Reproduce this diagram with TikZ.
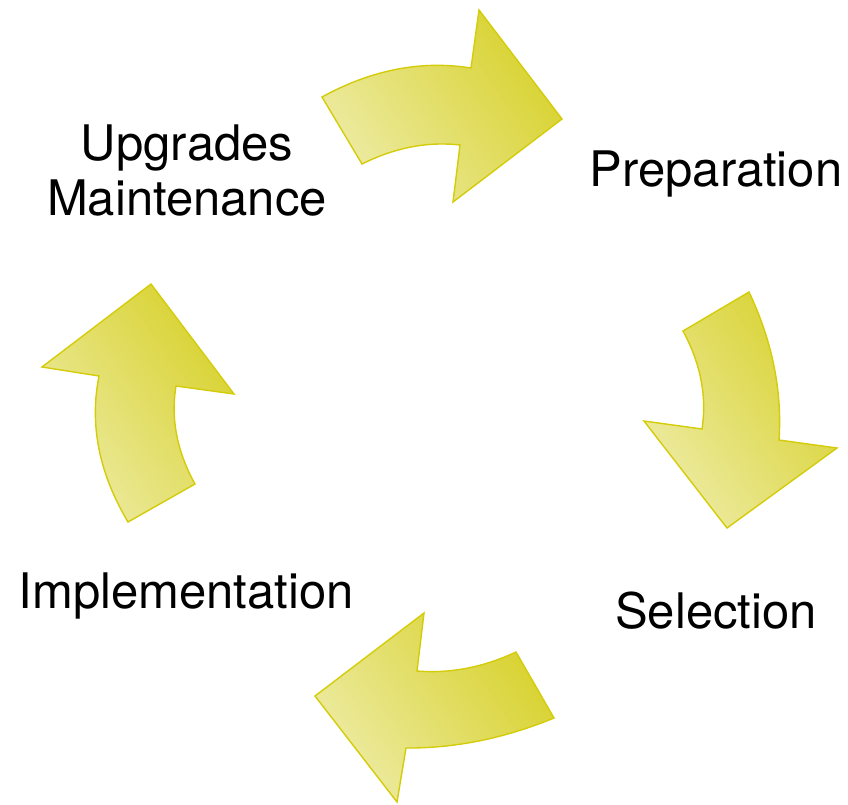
\documentclass[tikz,border=0pt]{standalone}
\usepackage{fontspec}
\setmainfont{TeX Gyre Heros}
\usetikzlibrary{positioning}

\definecolor{arrow-light}{RGB}{237,235,163}
\definecolor{arrow-dark}{RGB}{216,210,46}
\definecolor{arrow-line}{RGB}{212,204,10}

\begin{document}
\begin{tikzpicture}
[
x=1pt, y=-1pt,
arrow-a/.style={draw=arrow-line, line width=1.4pt, line join=miter, left color=arrow-light, right color=arrow-dark, shading angle=125},
text-a/.style={black, inner sep=0pt, anchor=base, font=\fontsize{49}{55}\selectfont}
]

\useasboundingbox (0,0) rectangle (848,804);

% arrows of the cycle
\draw [arrow-a] (322,97) -- (362,164) .. controls (394.7,147.7) and (427.3,141.3) .. (460,145)
                -- (453,202) -- (562,119) -- (479,10) -- (471,68)
                .. controls (421.3,60.1) and (371.7,69.7) .. (322,97) -- cycle;
\draw [arrow-a] (749,292) -- (683,331) .. controls (700.7,363.7) and (707,396.3) .. (702,429)
                -- (644,421) -- (727,528) -- (837,448) -- (779,440)
                .. controls (782.3,390.7) and (772.3,341.3) .. (749,292) -- cycle;
\draw [arrow-a] (516,652) -- (554,718) .. controls (504.7,738.3) and (455.3,748.3) .. (406,748)
                -- (397,802) -- (315,696) -- (424,613) -- (417,671)
                .. controls (450,673.7) and (483,667.4) .. (516,652) -- cycle;
\draw [arrow-a] (128,522) -- (195,484) .. controls (176.9,451.3) and (170.6,418.7) .. (176,386)
                -- (234,394) -- (151,284) -- (42,367) -- (99,376)
                .. controls (89.3,424.7) and (99,473.3) .. (128,522) -- cycle;

% labels
\node (upgrades)    [text-a] at (187,160) {Upgrades};
\node (maintenance) [text-a] at (187,215) {Maintenance};
\node (preparation) [text-a] at (716,186) {Preparation};
\node (selection)   [text-a] at (716,628) {Selection};
\node (implement)   [text-a] at (186,608) {Implementation};

\end{tikzpicture}
\end{document}
